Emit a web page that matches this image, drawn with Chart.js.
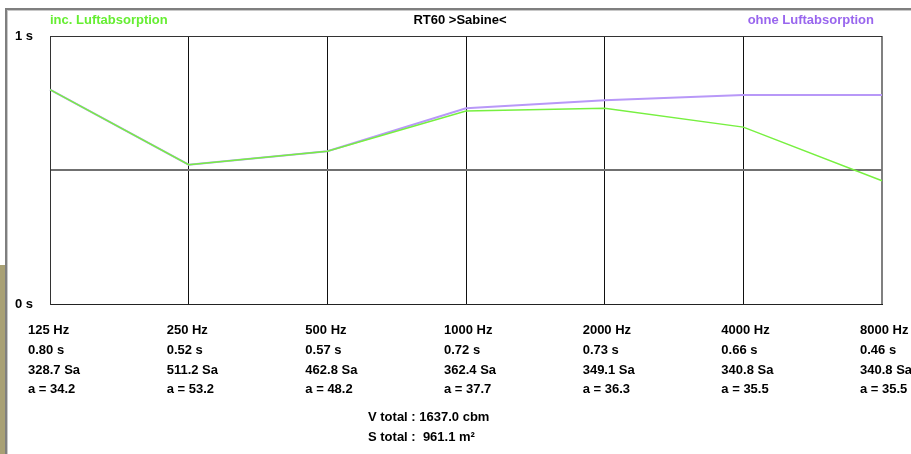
<!DOCTYPE html>
<html lang="de">
<head>
    <meta charset="UTF-8">
    <title>RT60 Sabine</title>
    <script src="https://cdn.jsdelivr.net/npm/chart.js@4.4.1/dist/chart.umd.min.js"></script>
    <style>
        html, body { margin: 0; padding: 0; background: #fff; }
        #wrap { width: 911px; height: 454px; position: relative; }
    </style>
</head>
<body>
    <div id="wrap">
        <canvas id="rtChart" width="911" height="454"></canvas>
    </div>

    <script>
        // Frequenzbänder und Werte
        const freqLabels = ['125 Hz', '250 Hz', '500 Hz', '1000 Hz', '2000 Hz', '4000 Hz', '8000 Hz'];
        const rtWithAir = [0.80, 0.52, 0.57, 0.72, 0.73, 0.66, 0.46];
        const rtWithoutAir = [0.80, 0.52, 0.57, 0.73, 0.76, 0.78, 0.78];
        const sabins = [328.7, 511.2, 462.8, 362.4, 349.1, 340.8, 340.8];
        const alphaVals = [34.2, 53.2, 48.2, 37.7, 36.3, 35.5, 35.5];
        const vTotal = 1637.0;
        const sTotal = 961.1;

        const FONT = 'bold 13px "Liberation Sans", Arial, sans-serif';

        // Rahmen, Legende und Tabelle unter dem Diagramm
        const extras = {
            id: 'extras',
            beforeDraw(chart) {
                const c = chart.ctx;
                c.save();
                c.fillStyle = '#fff';
                c.fillRect(0, 0, chart.width, chart.height);
                // Fensterrahmen
                c.fillStyle = '#a8a074';
                c.fillRect(0, 265, 5, chart.height - 265);
                c.fillStyle = '#7f7f7f';
                c.fillRect(5, 8, chart.width - 5, 2);
                c.fillRect(5, 8, 2, chart.height - 8);
                c.fillStyle = '#c8c8c8';
                c.fillRect(7, 10, chart.width - 7, 1);
                c.fillRect(7, 10, 1, chart.height - 10);
                c.restore();
            },
            afterDraw(chart) {
                const c = chart.ctx;
                const x = chart.scales.x;
                const area = chart.chartArea;
                c.save();
                c.font = FONT;
                c.textBaseline = 'middle';

                c.textAlign = 'left';
                c.fillStyle = '#66ee33';
                c.fillText('inc. Luftabsorption', area.left, 20);
                c.textAlign = 'center';
                c.fillStyle = '#000';
                c.fillText('RT60 >Sabine<', 460, 20);
                c.textAlign = 'right';
                c.fillStyle = '#9966ee';
                c.fillText('ohne Luftabsorption', area.right - 8, 20);

                c.textAlign = 'left';
                c.fillStyle = '#000';
                freqLabels.forEach((lab, i) => {
                    const px = x.getPixelForValue(i) - 22;
                    c.fillText(lab, px, 330);
                    c.fillText(rtWithAir[i].toFixed(2) + ' s', px, 350);
                    c.fillText(sabins[i].toFixed(1) + ' Sa', px, 370);
                    c.fillText('a = ' + alphaVals[i].toFixed(1), px, 389);
                });
                c.fillText('V total : ' + vTotal.toFixed(1) + ' cbm', 368, 417);
                c.fillText('S total :  ' + sTotal.toFixed(1) + ' m²', 368, 437);
                c.restore();
            }
        };

        const ctx = document.getElementById('rtChart').getContext('2d');

        const data = {
            labels: freqLabels,
            datasets: [{
                label: 'inc. Luftabsorption',
                data: rtWithAir,
                borderColor: '#77f040',
                borderWidth: 1.5,
                pointRadius: 0,
                tension: 0
            }, {
                label: 'ohne Luftabsorption',
                data: rtWithoutAir,
                borderColor: '#b898f8',
                borderWidth: 2,
                pointRadius: 0,
                tension: 0
            }]
        };

        const config = {
            type: 'line',
            data: data,
            plugins: [extras],
            options: {
                responsive: false,
                animation: false,
                layout: { padding: { left: 0, right: 29, top: 36, bottom: 150 } },
                plugins: {
                    legend: { display: false },
                    title: { display: false },
                    tooltip: { enabled: false }
                },
                scales: {
                    x: {
                        offset: false,
                        ticks: { display: false },
                        grid: {
                            drawTicks: false,
                            color: (c) => c.index === 6 ? '#808080' : '#111',
                            lineWidth: (c) => c.index === 6 ? 2 : 1
                        },
                        border: { color: '#222', width: 1 }
                    },
                    y: {
                        min: 0,
                        max: 1,
                        afterFit: (s) => { s.width = 50; },
                        ticks: {
                            stepSize: 0.5,
                            padding: 17,
                            color: '#000',
                            font: { family: '"Liberation Sans", Arial, sans-serif', size: 13, weight: 'bold' },
                            callback: (v) => v === 1 ? '1 s' : (v === 0 ? '0 s' : '')
                        },
                        grid: {
                            drawTicks: false,
                            color: (c) => c.tick.value === 0.5 ? '#707070' : '#333',
                            lineWidth: (c) => c.tick.value === 0.5 ? 2 : 1
                        },
                        border: { color: '#333', width: 1 }
                    }
                }
            }
        };

        const rtChart = new Chart(ctx, config);
    </script>
</body>
</html>
